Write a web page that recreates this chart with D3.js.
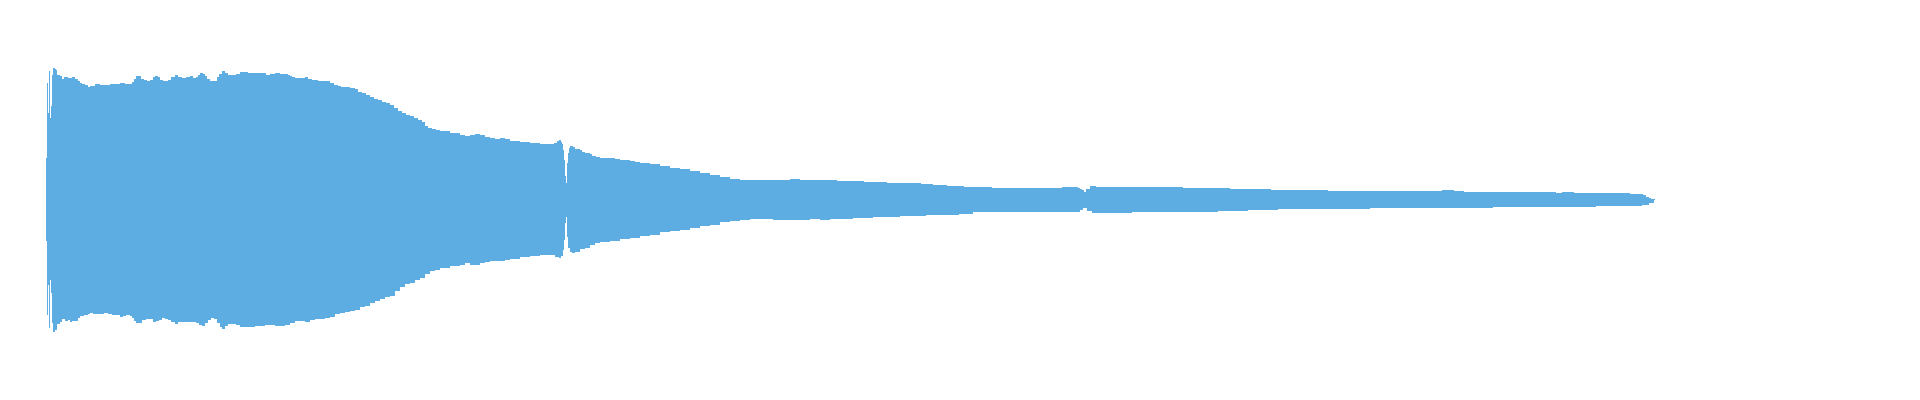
<!DOCTYPE html>
<html>
<head>
<meta charset="utf-8">
<script src="https://cdn.jsdelivr.net/npm/d3@7"></script>
<style>
  html, body { margin: 0; padding: 0; background: #ffffff; }
  svg { display: block; }
</style>
</head>
<body>
<div id="chart"></div>
<script>
// Audio duration (seconds) and envelope of the waveform (normalised amplitude, -1..1)
const duration = 16.09;

// Upper envelope: time (s)
const upperTimes = [0.00,0.01,0.02,0.03,0.04,0.05,0.06,0.07,0.09,0.10,0.11,0.14,0.16,0.18,0.22,0.26,0.29,0.32,0.34,0.36,0.39,0.42,0.44,0.49,0.54,0.59,0.64,0.69,0.74,0.79,0.84,0.86,0.88,0.90,0.93,0.95,0.98,1.01,1.04,1.07,1.09,1.12,1.14,1.17,1.20,1.22,1.25,1.29,1.32,1.36,1.40,1.44,1.47,1.50,1.52,1.54,1.57,1.59,1.61,1.64,1.67,1.69,1.71,1.73,1.76,1.79,1.82,1.86,1.90,1.94,1.98,2.02,2.07,2.12,2.16,2.20,2.24,2.29,2.34,2.39,2.42,2.44,2.46,2.49,2.54,2.59,2.62,2.66,2.72,2.76,2.80,2.84,2.88,2.92,2.95,3.00,3.04,3.09,3.12,3.16,3.20,3.24,3.28,3.32,3.36,3.40,3.44,3.48,3.52,3.56,3.60,3.64,3.68,3.72,3.76,3.79,3.82,3.86,3.90,3.94,4.04,4.14,4.19,4.24,4.29,4.34,4.39,4.44,4.49,4.54,4.59,4.64,4.74,4.84,4.94,5.08,5.11,5.13,5.15,5.16,5.17,5.18,5.19,5.20,5.21,5.22,5.23,5.24,5.27,5.29,5.34,5.36,5.39,5.44,5.46,5.50,5.54,5.69,5.74,5.84,5.89,5.94,6.04,6.14,6.24,6.34,6.44,6.54,6.64,6.74,6.84,6.94,7.44,7.54,7.91,8.18,8.41,8.75,8.87,9.01,9.18,9.46,10.16,10.32,10.34,10.36,10.38,10.40,10.44,10.50,11.37,11.84,12.25,12.82,13.96,14.08,14.18,15.10,15.16,15.28,15.84,15.97,16.00,16.03,16.05,16.09];
// Upper envelope: peak amplitude
const upperPeaks = [0.21,0.585,0.435,0.645,0.41,0.47,0.625,0.66,0.655,0.65,0.625,0.62,0.605,0.615,0.61,0.615,0.605,0.595,0.585,0.58,0.575,0.565,0.57,0.58,0.575,0.575,0.58,0.58,0.585,0.58,0.58,0.59,0.605,0.62,0.62,0.605,0.60,0.595,0.60,0.615,0.62,0.615,0.60,0.595,0.595,0.60,0.615,0.625,0.615,0.61,0.615,0.62,0.61,0.615,0.625,0.635,0.63,0.62,0.605,0.595,0.595,0.595,0.615,0.63,0.645,0.635,0.625,0.625,0.63,0.64,0.64,0.635,0.635,0.635,0.635,0.625,0.63,0.635,0.63,0.63,0.625,0.62,0.615,0.61,0.61,0.615,0.605,0.60,0.595,0.595,0.595,0.585,0.575,0.57,0.565,0.565,0.56,0.555,0.54,0.535,0.525,0.515,0.505,0.50,0.49,0.485,0.475,0.46,0.445,0.435,0.425,0.42,0.41,0.40,0.39,0.37,0.36,0.355,0.35,0.345,0.335,0.325,0.32,0.325,0.33,0.325,0.315,0.31,0.305,0.31,0.305,0.295,0.29,0.285,0.28,0.285,0.295,0.30,0.29,0.28,0.25,0.20,0.12,0.085,0.185,0.235,0.26,0.27,0.265,0.255,0.25,0.24,0.235,0.23,0.22,0.215,0.21,0.205,0.20,0.195,0.19,0.185,0.18,0.17,0.16,0.155,0.145,0.135,0.125,0.115,0.105,0.10,0.105,0.10,0.095,0.09,0.085,0.08,0.075,0.07,0.065,0.06,0.065,0.06,0.055,0.05,0.04,0.055,0.07,0.065,0.06,0.055,0.05,0.045,0.05,0.045,0.04,0.035,0.04,0.035,0.03,0.025,0.015,0.01,0.005,0];

// Lower envelope: time (s)
const lowerTimes = [0.00,0.01,0.02,0.03,0.04,0.05,0.06,0.07,0.09,0.11,0.14,0.16,0.19,0.22,0.24,0.26,0.29,0.32,0.34,0.38,0.42,0.44,0.47,0.51,0.54,0.58,0.62,0.66,0.70,0.74,0.77,0.80,0.84,0.86,0.88,0.90,0.93,0.96,1.00,1.04,1.07,1.10,1.13,1.16,1.19,1.22,1.25,1.29,1.32,1.36,1.41,1.46,1.50,1.53,1.56,1.59,1.62,1.65,1.68,1.71,1.74,1.76,1.79,1.82,1.86,1.90,1.94,1.99,2.04,2.09,2.14,2.19,2.24,2.29,2.34,2.39,2.44,2.49,2.54,2.59,2.64,2.69,2.74,2.79,2.84,2.89,2.94,2.99,3.04,3.09,3.14,3.19,3.24,3.29,3.34,3.39,3.44,3.49,3.54,3.59,3.64,3.69,3.74,3.79,3.84,3.89,3.94,4.04,4.14,4.19,4.24,4.34,4.39,4.44,4.59,4.64,4.74,4.84,4.94,5.09,5.13,5.15,5.17,5.18,5.19,5.20,5.21,5.22,5.24,5.26,5.29,5.34,5.39,5.44,5.49,5.54,5.64,5.74,5.84,5.94,6.04,6.14,6.24,6.34,6.44,6.54,6.64,6.74,6.84,6.94,7.04,7.27,7.64,7.74,7.84,8.07,8.27,8.54,8.80,9.13,9.27,10.32,10.34,10.37,10.41,10.46,10.86,11.72,12.02,12.32,13.24,14.47,15.50,15.96,16.03,16.08];
// Lower envelope: trough amplitude
const lowerTroughs = [-0.205,-0.575,-0.425,-0.64,-0.40,-0.465,-0.615,-0.66,-0.65,-0.62,-0.61,-0.595,-0.605,-0.60,-0.61,-0.605,-0.605,-0.59,-0.58,-0.575,-0.57,-0.565,-0.57,-0.57,-0.57,-0.565,-0.57,-0.575,-0.575,-0.585,-0.58,-0.575,-0.58,-0.59,-0.605,-0.615,-0.615,-0.60,-0.595,-0.595,-0.61,-0.605,-0.60,-0.59,-0.595,-0.60,-0.61,-0.62,-0.61,-0.61,-0.61,-0.61,-0.615,-0.625,-0.63,-0.615,-0.60,-0.59,-0.595,-0.615,-0.635,-0.645,-0.63,-0.62,-0.62,-0.625,-0.635,-0.635,-0.635,-0.63,-0.63,-0.625,-0.625,-0.63,-0.63,-0.625,-0.615,-0.605,-0.605,-0.61,-0.60,-0.595,-0.595,-0.59,-0.585,-0.57,-0.565,-0.56,-0.555,-0.55,-0.535,-0.53,-0.515,-0.505,-0.495,-0.485,-0.48,-0.455,-0.435,-0.42,-0.415,-0.40,-0.39,-0.37,-0.355,-0.35,-0.34,-0.33,-0.325,-0.315,-0.325,-0.315,-0.31,-0.305,-0.30,-0.295,-0.285,-0.28,-0.275,-0.285,-0.29,-0.28,-0.25,-0.20,-0.115,-0.085,-0.185,-0.24,-0.26,-0.265,-0.26,-0.245,-0.24,-0.225,-0.215,-0.21,-0.205,-0.195,-0.19,-0.18,-0.175,-0.16,-0.155,-0.15,-0.14,-0.13,-0.125,-0.11,-0.105,-0.10,-0.095,-0.10,-0.095,-0.10,-0.095,-0.09,-0.085,-0.08,-0.075,-0.07,-0.06,-0.06,-0.05,-0.04,-0.055,-0.065,-0.06,-0.055,-0.05,-0.045,-0.04,-0.035,-0.03,-0.025,-0.015,0];

const upper = upperTimes.map((t, i) => ({ t, v: upperPeaks[i] }));
const lower = lowerTimes.map((t, i) => ({ t, v: lowerTroughs[i] }));

const width = 1920, height = 400;
const margin = { left: 46, right: 265 };
const waveColor = "#5dace2";

const svg = d3.select("#chart").append("svg")
  .attr("width", width)
  .attr("height", height);

const x = d3.scaleLinear().domain([0, duration]).range([margin.left, width - margin.right]);
const y = d3.scaleLinear().domain([-1, 1]).range([height, 0]);

const area = d3.area()
  .curve(d3.curveStepAfter)
  .x(d => x(d.t))
  .y0(() => y(0))
  .y1(d => y(d.v));

svg.append("path")
  .datum(upper)
  .attr("d", area)
  .attr("fill", waveColor)
  .attr("shape-rendering", "crispEdges");

svg.append("path")
  .datum(lower)
  .attr("d", area)
  .attr("fill", waveColor)
  .attr("shape-rendering", "crispEdges");
</script>
</body>
</html>
